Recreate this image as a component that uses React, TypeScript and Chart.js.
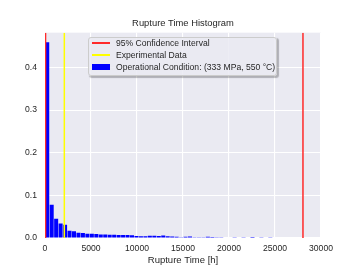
import React, { useEffect, useRef } from "react";
import { Chart, registerables } from "chart.js";

Chart.register(...registerables);

const TITLE = "Rupture Time Histogram";
const X_LABEL = "Rupture Time [h]";

// Histogram bins (left edges, hours) and relative frequencies
const BIN_WIDTH = 485;
const BIN_STARTS = [
  0, 485, 970, 1455, 1940, 2425, 2910, 3395, 3880, 4365,
  4850, 5335, 5820, 6305, 6790, 7275, 7760, 8245, 8730, 9215,
  9700, 10185, 10670, 11155, 11640, 12125, 12610, 13095, 13580, 14065,
  14550, 15035, 15520, 16005, 16490, 16975, 17460, 17945, 18430, 18915,
  19400, 19885, 20370, 20855, 21340, 21825, 22310, 22795, 23280, 23765,
  24250, 24735, 25220, 25705, 26190, 26675, 27160, 27645, 28130, 28615,
  29100,
];
const FREQUENCIES = [
  0.459, 0.078, 0.045, 0.034, 0.031, 0.017, 0.016, 0.0125, 0.012, 0.01,
  0.01, 0.0095, 0.008, 0.008, 0.0075, 0.0075, 0.007, 0.007, 0.0068, 0.0065,
  0.0045, 0.004, 0.004, 0.005, 0.005, 0.0045, 0.006, 0.004, 0.0035, 0.003,
  0.002, 0.003, 0.0035, 0.002, 0.002, 0.0015, 0.003, 0.0025, 0.0015, 0.0015,
  0.001, 0, 0.0015, 0.001, 0.002, 0.001, 0.0025, 0.001, 0.0015, 0.001,
  0.0015, 0.001, 0, 0, 0, 0, 0, 0, 0, 0.001,
  0.001,
];

const CI_BOUNDS = [60, 28040];
const EXPERIMENTAL = [2100];

const X_TICKS = [0, 5000, 10000, 15000, 20000, 25000, 30000];
const Y_TICKS = [0, 0.1, 0.2, 0.3, 0.4];
const X_MIN = 0;
const X_MAX = 30000;
const Y_MIN = 0;
const Y_MAX = 0.4815;

const CI_LABEL = "95% Confidence Interval";
const EXP_LABEL = "Experimental Data";
const HIST_LABEL = "Operational Condition: (333 MPa, 550 °C)";

const RED = "#ff2a2a";
const YELLOW = "#ffff00";
const BLUE = "#0000ff";
const TEXT = "#262626";
const FONT = "'Liberation Sans', Arial, Helvetica, sans-serif";

const LEGEND_ITEMS = [
  { label: CI_LABEL, color: RED, kind: "line" },
  { label: EXP_LABEL, color: YELLOW, kind: "line" },
  { label: HIST_LABEL, color: BLUE, kind: "patch" },
];

const plotBackground = {
  id: "plotBackground",
  beforeDraw(chart: any) {
    const { ctx, chartArea } = chart;
    if (!chartArea) return;
    ctx.save();
    ctx.fillStyle = "#eaeaf2";
    ctx.fillRect(chartArea.left, chartArea.top, chartArea.right - chartArea.left, chartArea.bottom - chartArea.top);
    ctx.restore();
  },
};

function vLine(x: number, color: string, label: string) {
  return {
    type: "line" as const,
    label,
    data: [
      { x, y: Y_MIN },
      { x, y: Y_MAX },
    ],
    borderColor: color,
    backgroundColor: color,
    borderWidth: 1.5,
    pointRadius: 0,
    order: 0,
  };
}

export default function App() {
  const canvasRef = useRef<HTMLCanvasElement | null>(null);

  useEffect(() => {
    if (!canvasRef.current) return;
    const histData = BIN_STARTS.map((s, i) => ({ x: s + BIN_WIDTH / 2, y: FREQUENCIES[i] }));
    const chart = new Chart(canvasRef.current, {
      type: "bar",
      data: {
        datasets: [
          {
            type: "bar",
            label: HIST_LABEL,
            data: histData,
            backgroundColor: BLUE,
            borderWidth: 0,
            barPercentage: 1,
            categoryPercentage: 0.9,
            order: 1,
          } as any,
          ...CI_BOUNDS.map((b) => vLine(b, RED, CI_LABEL)),
          ...EXPERIMENTAL.map((e) => vLine(e, YELLOW, EXP_LABEL)),
        ],
      },
      options: {
        animation: false,
        responsive: true,
        maintainAspectRatio: false,
        layout: { padding: { left: 0, right: 36, top: 0, bottom: 0 } },
        plugins: {
          legend: { display: false },
          tooltip: { enabled: false },
          title: {
            display: true,
            fullSize: false,
            text: TITLE,
            color: TEXT,
            font: { family: FONT, size: 9.4, weight: "normal" },
            padding: { top: 18.2, bottom: 3.2 },
          },
        },
        scales: {
          x: {
            type: "linear",
            min: X_MIN,
            max: X_MAX,
            offset: false,
            afterBuildTicks: (scale: any) => {
              scale.ticks = X_TICKS.map((v) => ({ value: v }));
            },
            afterFit: (scale: any) => {
              scale.height = 30;
            },
            grid: { color: "#ffffff", lineWidth: 1.1, drawTicks: false, offset: false },
            border: { display: false },
            ticks: {
              color: TEXT,
              padding: 5,
              maxRotation: 0,
              font: { family: FONT, size: 8.6 },
              callback: (v: any) => String(v),
            },
            title: {
              display: true,
              text: X_LABEL,
              color: TEXT,
              font: { family: FONT, size: 9.5 },
              padding: { top: 0, bottom: 2 },
            },
          },
          y: {
            type: "linear",
            min: Y_MIN,
            max: Y_MAX,
            afterBuildTicks: (scale: any) => {
              scale.ticks = Y_TICKS.map((v) => ({ value: v }));
            },
            afterFit: (scale: any) => {
              scale.width = 45;
            },
            grid: { color: "#ffffff", lineWidth: 1.1, drawTicks: false },
            border: { display: false },
            ticks: {
              color: TEXT,
              padding: 8,
              font: { family: FONT, size: 8.6 },
              callback: (v: any) => Number(v).toFixed(1),
            },
          },
        },
      } as any,
      plugins: [plotBackground],
    });
    return () => chart.destroy();
  }, []);

  return (
    <div style={{ position: "fixed", left: 0, top: 0, width: 357, height: 268, background: "#ffffff" }}>
      <canvas ref={canvasRef} />
      <div
        style={{
          position: "absolute",
          left: 88,
          top: 37,
          width: 189,
          height: 39,
          boxSizing: "border-box",
          background: "rgba(234,234,242,0.85)",
          border: "1px solid #cccccc",
          borderRadius: 3,
          boxShadow: "1.5px 1.5px 1px rgba(0,0,0,0.25)",
          fontFamily: FONT,
          fontSize: 8.6,
          color: TEXT,
        }}
      >
        {LEGEND_ITEMS.map((item, i) => (
          <div
            key={item.label}
            style={{
              position: "absolute",
              left: 3,
              top: -1 + i * 12,
              height: 12,
              display: "flex",
              alignItems: "center",
              whiteSpace: "nowrap",
            }}
          >
            <span
              style={{
                display: "inline-block",
                width: 18,
                height: item.kind === "line" ? 1.5 : 6,
                background: item.color,
                marginRight: 6,
              }}
            />
            <span style={{ lineHeight: "12px" }}>{item.label}</span>
          </div>
        ))}
      </div>
    </div>
  );
}
